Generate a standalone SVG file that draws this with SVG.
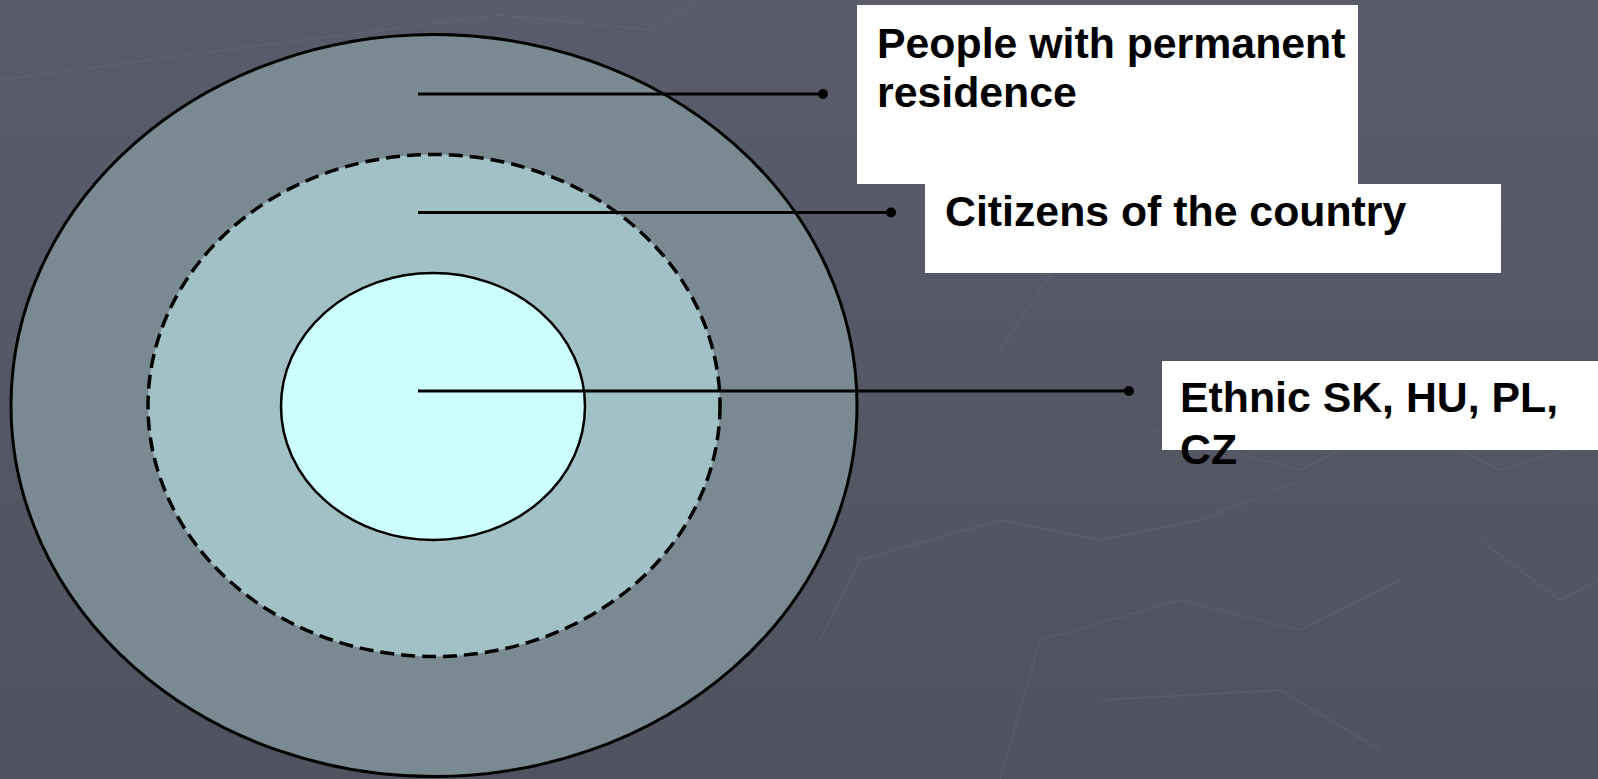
<svg xmlns="http://www.w3.org/2000/svg" width="1598" height="779" viewBox="0 0 1598 779">
  <defs>
    <linearGradient id="bg" x1="0" y1="0" x2="0" y2="1">
      <stop offset="0" stop-color="#5a5c6c"/>
      <stop offset="1" stop-color="#50525f"/>
    </linearGradient>
    <style>
      .lbl { font-family: "Liberation Sans", Arial, sans-serif; font-weight: bold; font-size: 42.8px; fill: #000; }
      .box { fill: #ffffff; }
      .lead { stroke: #000; stroke-width: 3; fill: none; }
      .dot { fill: #000; }
      .deco { stroke: #6a6d7d; stroke-width: 1.5; fill: none; opacity: 0.35; }
    </style>
  </defs>
  <rect x="0" y="0" width="1598" height="779" fill="url(#bg)"/>
  <g id="background-pattern">
    <polyline class="deco" points="0,80 240,48 500,15 650,30 700,0"/>
    <polyline class="deco" points="1010,150 1050,190 1060,260 1000,350"/>
    <polyline class="deco" points="1150,430 1300,470 1400,420 1500,470 1598,440"/>
    <polyline class="deco" points="820,640 860,560 1000,520 1100,540 1200,520 1300,480"/>
    <polyline class="deco" points="1000,779 1040,640 1180,600 1300,630 1400,580"/>
    <polyline class="deco" points="1100,700 1280,690 1380,750"/>
    <polyline class="deco" points="1480,540 1560,600 1598,580"/>
  </g>
  <g id="node-residence">
    <ellipse cx="434" cy="405.5" rx="423" ry="371" fill="#798a93" stroke="#000" stroke-width="3"/>
  </g>
  <g id="node-citizens">
    <ellipse cx="434" cy="405.5" rx="286" ry="251" fill="#a2c1c7" stroke="#000" stroke-width="3.5" stroke-dasharray="14 7"/>
  </g>
  <g id="node-ethnic">
    <ellipse cx="433" cy="406.5" rx="152" ry="133.5" fill="#ccffff" stroke="#000" stroke-width="2.5"/>
  </g>
  <g id="label-residence">
    <rect class="box" x="857" y="5" width="501" height="179"/>
    <text class="lbl" x="877" y="58">People with permanent</text>
    <text class="lbl" x="877" y="107">residence</text>
  </g>
  <g id="label-citizens">
    <rect class="box" x="925" y="184" width="576" height="89"/>
    <text class="lbl" x="945" y="226">Citizens of the country</text>
  </g>
  <g id="label-ethnic">
    <rect class="box" x="1162" y="361" width="436" height="89"/>
    <text class="lbl" x="1180" y="412">Ethnic SK, HU, PL,</text>
    <text class="lbl" x="1180" y="464">CZ</text>
  </g>
  <g id="connectors">
    <line class="lead" x1="418" y1="94" x2="823" y2="94"/>
    <circle class="dot" cx="823" cy="94" r="5"/>
    <line class="lead" x1="418" y1="212.5" x2="891" y2="212.5"/>
    <circle class="dot" cx="891" cy="212.5" r="5"/>
    <line class="lead" x1="418" y1="391" x2="1129" y2="391"/>
    <circle class="dot" cx="1129" cy="391" r="5"/>
  </g>
</svg>
